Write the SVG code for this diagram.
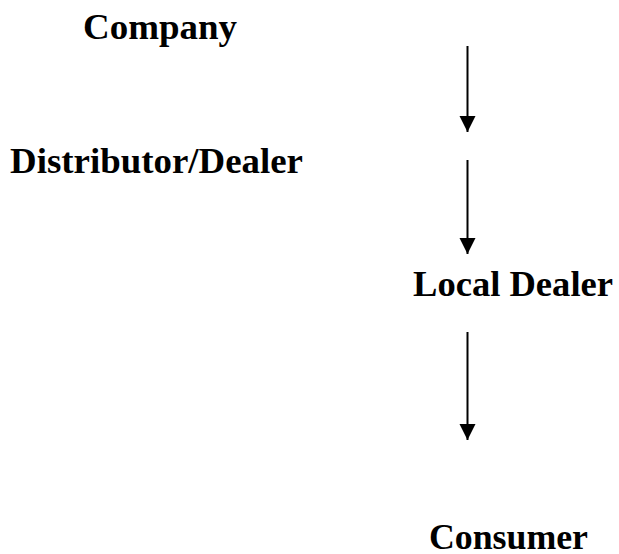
<svg xmlns="http://www.w3.org/2000/svg" width="619" height="554" viewBox="0 0 619 554">
<style>
.lbl{font-family:"Liberation Serif","Times New Roman",serif;font-weight:bold;font-size:36px;fill:#000}
.conn{stroke:#000;stroke-width:2;fill:none}
</style>
<defs>
<marker id="ah" markerUnits="userSpaceOnUse" markerWidth="16" markerHeight="16" viewBox="0 0 16 16" refX="8" refY="16" orient="0" overflow="visible">
<polygon points="0,0 16,0 8,16" fill="#000"/>
</marker>
</defs>
<rect width="619" height="554" fill="#fff"/>
<g id="company"><text class="lbl" x="83" y="39" textLength="154" lengthAdjust="spacingAndGlyphs">Company</text></g>
<g id="distributor"><text class="lbl" x="10" y="173" textLength="293" lengthAdjust="spacingAndGlyphs">Distributor/Dealer</text></g>
<g id="local-dealer"><text class="lbl" x="413" y="296" textLength="200" lengthAdjust="spacingAndGlyphs">Local Dealer</text></g>
<g id="consumer"><text class="lbl" x="429" y="549" textLength="159" lengthAdjust="spacingAndGlyphs">Consumer</text></g>
<g id="connectors">
<line class="conn" x1="467.5" y1="46" x2="467.5" y2="132" marker-end="url(#ah)"/>
<line class="conn" x1="467.5" y1="160" x2="467.5" y2="254" marker-end="url(#ah)"/>
<line class="conn" x1="467.5" y1="332" x2="467.5" y2="440" marker-end="url(#ah)"/>
</g>
</svg>
